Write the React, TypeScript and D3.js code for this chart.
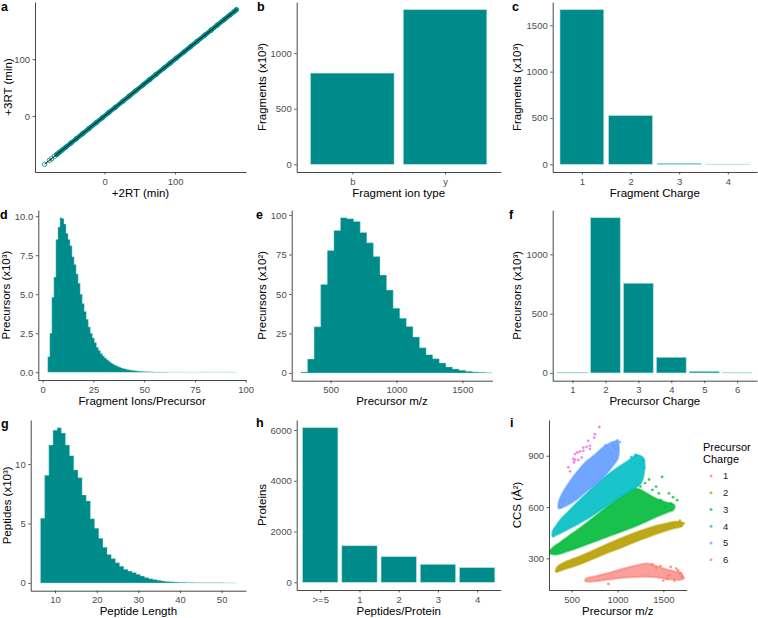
import React, { useEffect, useRef } from "react";
import * as d3 from "d3";

// ---------- data ----------
// a: retention times, +2 vs +3 charge
const rtPlus2 = [-85, -78, -75, -71, -68, -64, -60, -55, -48, -40, -31, -22, -12, -3, 6, 15, 26, 35, 44, 55, 64, 73, 84, 93, 102, 113, 122, 131, 142, 151, 160, 170, 178, 184, 187];
const rtPlus3 = [-85, -78, -75, -71, -68, -64, -60, -55, -48, -40, -31, -22, -12, -3, 6, 15, 26, 35, 44, 55, 64, 73, 84, 93, 102, 113, 122, 131, 142, 151, 160, 170, 178, 184, 187];

// b
const ionTypes = ["b", "y"];
const ionTypeCounts = [820, 1390];
// c
const fragCharges = ["1", "2", "3", "4"];
const fragChargeCounts = [1668, 525, 10, 1];
// d: fragment ions per precursor, bins of 1 starting at 3
const ionsBinStart = 2.5;
const ionsBinWidth = 1;
const ionsPerPrecursor = [
  1.0, 2.5, 4.8, 6.1, 8.5, 9.3, 9.9, 9.85, 9.5, 8.9, 8.5, 8.1, 7.4, 6.9, 6.3, 5.7, 5.0, 4.4, 3.9, 3.4,
  2.9, 2.5, 2.2, 1.9, 1.6, 1.4, 1.2, 1.05, 0.92, 0.8, 0.7, 0.6, 0.52, 0.45, 0.39, 0.33, 0.28, 0.24, 0.21, 0.18,
  0.15, 0.13, 0.11, 0.095, 0.08, 0.07, 0.06, 0.05, 0.043, 0.037, 0.032, 0.027, 0.023, 0.02, 0.017, 0.015, 0.013, 0.011, 0.01, 0.009,
  0.008, 0.007, 0.006, 0.005, 0.005, 0.004, 0.004, 0.003, 0.003, 0.003, 0.002, 0.002, 0.002, 0.002, 0.002, 0.002, 0.002, 0.002, 0.001, 0.001,
  0.001, 0.001, 0.001, 0.001, 0.001, 0.001, 0.001, 0.001, 0.001, 0.001, 0.001, 0.001, 0.001,
];
// e: precursor m/z, bins of 50 starting at 275
const mzBinStart = 275;
const mzBinWidth = 50;
const precursorMz = [
  0.6, 8.8, 29.2, 56.1, 77.5, 90.3, 98.3, 97.7, 96.0, 88.9, 82.4, 73.7, 62.0, 52.5, 41.0,
  34.7, 29.4, 22.7, 16.0, 11.6, 9.0, 6.3, 3.8, 2.5, 1.7, 1.0, 0.6, 0.4, 0.2,
];
// f
const precCharges = ["1", "2", "3", "4", "5", "6"];
const precChargeCounts = [6, 1308, 756, 132, 14, 2];
// g: peptide length, bins of 1 starting at 7
const lenBinStart = 6.5;
const lenBinWidth = 1;
const peptideLength = [
  5.45, 9.05, 11.6, 12.85, 13.05, 12.6, 11.6, 10.7, 9.5, 8.85, 7.4, 6.9, 5.4, 4.6, 3.75, 3.0,
  2.4, 2.05, 1.7, 1.4, 1.15, 1.0, 0.88, 0.73, 0.58, 0.46, 0.36, 0.28, 0.22, 0.17, 0.13, 0.1,
  0.08, 0.06, 0.05, 0.04, 0.03, 0.025, 0.02, 0.015, 0.012, 0.01, 0.008, 0.006, 0.005, 0.004, 0.003,
];
// h
const pepPerProtein = [">=5", "1", "2", "3", "4"];
const proteinCounts = [6092, 1438, 1007, 706, 575];

// i: CCS vs m/z, dense clouds as outlines + loose points
const chargeLabels = ["1", "2", "3", "4", "5", "6"];
const chargeColors = ["#F8766D", "#B79F00", "#00BA38", "#00BFC4", "#619CFF", "#F564E3"];
const cloud1 = [[650, 180], [760, 196], [900, 214], [1050, 238], [1200, 258], [1320, 270], [1420, 256], [1520, 238], [1620, 224], [1705, 210], [1705, 178], [1600, 176], [1460, 186], [1300, 192], [1100, 188], [900, 176], [760, 166], [650, 166]];
const cloud2 = [[330, 222], [420, 236], [520, 252], [620, 272], [720, 294], [820, 316], [920, 338], [1020, 358], [1120, 380], [1220, 402], [1320, 422], [1420, 442], [1520, 460], [1620, 476], [1705, 488], [1710, 508], [1640, 516], [1540, 506], [1440, 494], [1340, 478], [1240, 460], [1140, 440], [1040, 418], [940, 396], [840, 372], [740, 348], [640, 324], [540, 302], [440, 282], [370, 262], [335, 244]];
const cloud3 = [[268, 328], [340, 322], [440, 338], [540, 356], [640, 376], [740, 396], [840, 416], [940, 436], [1040, 456], [1140, 476], [1240, 498], [1340, 522], [1440, 546], [1540, 568], [1610, 584], [1620, 612], [1520, 630], [1420, 650], [1320, 680], [1230, 706], [1160, 704], [1060, 668], [960, 632], [860, 590], [760, 548], [660, 506], [560, 466], [460, 428], [380, 396], [310, 370], [270, 350]];
const cloud4 = [[292, 432], [360, 442], [460, 470], [560, 498], [660, 528], [760, 562], [860, 598], [960, 634], [1060, 668], [1160, 700], [1250, 735], [1290, 800], [1285, 885], [1200, 905], [1140, 880], [1040, 845], [940, 808], [840, 765], [740, 718], [640, 668], [540, 616], [450, 566], [380, 528], [325, 488], [292, 458]];
const cloud5 = [[358, 592], [450, 610], [550, 642], [650, 688], [750, 728], [850, 776], [950, 842], [1005, 885], [1000, 985], [920, 975], [850, 952], [750, 905], [650, 862], [550, 800], [470, 742], [400, 682], [360, 632]];
const loose1 = [[1640, 240], [1680, 215], [1560, 200], [1470, 255], [1380, 265], [1620, 170], [900, 150], [1720, 185], [1500, 170], [1660, 230], [1420, 245], [1580, 250], [1700, 195], [1540, 180]];
const loose2 = [[1720, 505], [340, 225], [1680, 520]];
const loose3 = [[1486, 776], [1344, 761], [1300, 740], [1420, 720], [1560, 680], [1605, 658], [1650, 640], [1380, 700], [1450, 680], [1520, 600], [1250, 720], [1470, 640], [1580, 620]];
const loose4 = [[1279, 870], [1200, 905], [1250, 850], [1150, 890], [1290, 830], [300, 430]];
const loose5 = [[1000, 990], [1025, 980], [955, 960], [930, 915], [980, 940], [870, 960], [380, 600], [420, 640]];
const loose6 = [[801, 1068], [754, 1026], [746, 1006], [681, 987], [699, 958], [663, 952], [627, 948], [591, 925], [562, 919], [536, 910], [609, 890], [572, 875], [536, 875], [518, 881], [464, 832], [482, 809], [525, 861], [699, 939], [627, 929]];

// ---------- styling ----------
const FONT = "'Liberation Sans', Arial, Helvetica, sans-serif";
const TEAL = "#008b8b";
const BAR_EDGE = "#a9dcdc";

const expand = (lo: number, hi: number, f = 0.05) => {
  const d = (hi - lo) * f;
  return [lo - d, hi + d];
};

type Box = { l: number; r: number; t: number; b: number };

function frame(svg: any, box: Box, xs: any, ys: any, o: any) {
  const g = svg.append("g");
  const xa = g
    .append("g")
    .attr("transform", `translate(0,${box.b})`)
    .call(d3.axisBottom(xs).tickValues(o.xTicks).tickFormat(o.xFmt || d3.format("d")).tickSize(2.5).tickSizeOuter(0).tickPadding(3.5));
  const ya = g
    .append("g")
    .attr("transform", `translate(${box.l},0)`)
    .call(d3.axisLeft(ys).tickValues(o.yTicks).tickFormat(o.yFmt || d3.format("d")).tickSize(2.5).tickSizeOuter(0).tickPadding(2.5));
  [xa, ya].forEach((a) => {
    a.select(".domain").attr("stroke", "#333").attr("stroke-width", 0.9);
    a.selectAll(".tick line").attr("stroke", "#333").attr("stroke-width", 0.8);
    a.selectAll("text").attr("fill", "#4d4d4d").style("font-size", "9.5px").style("font-family", FONT);
  });

  g.append("text")
    .attr("x", (box.l + box.r) / 2)
    .attr("y", box.b + 24.5)
    .attr("text-anchor", "middle")
    .style("font-size", "11.5px")
    .style("font-family", FONT)
    .text(o.xTitle);

  g.append("text")
    .attr("transform", `translate(${o.yTitleX + 4},${(box.t + box.b) / 2}) rotate(-90)`)
    .attr("text-anchor", "middle")
    .style("font-size", "11.5px")
    .style("font-family", FONT)
    .text(o.yTitle);

  g.append("text")
    .attr("x", o.letter[1])
    .attr("y", o.letter[2])
    .style("font-size", "12.5px")
    .style("font-weight", "bold")
    .style("font-family", FONT)
    .text(o.letter[0]);
}

function bars(svg: any, xs: any, ys: any, counts: number[]) {
  svg
    .append("g")
    .selectAll("rect")
    .data(counts)
    .join("rect")
    .attr("x", (d: number, i: number) => xs(i + 1 - 0.45))
    .attr("width", xs(0.9) - xs(0))
    .attr("y", (d: number) => ys(d))
    .attr("height", (d: number) => ys(0) - ys(d))
    .attr("fill", TEAL)
    .attr("stroke", BAR_EDGE)
    .attr("stroke-width", 0.6);
}

// histogram drawn as one stepped outline so that neighbouring bins don't leave seams
function histogram(svg: any, xs: any, ys: any, start: number, width: number, values: number[]) {
  const steps: number[][] = [];
  values.forEach((v, i) => {
    steps.push([start + i * width, v]);
    steps.push([start + (i + 1) * width, v]);
  });
  const area = d3
    .area<number[]>()
    .x((d) => xs(d[0]))
    .y0(ys(0))
    .y1((d) => ys(d[1]));
  svg.append("path").attr("d", area(steps)).attr("fill", TEAL).attr("stroke", BAR_EDGE).attr("stroke-width", 0.4);
}

const App = () => {
  const svgRef = useRef<SVGSVGElement>(null);

  useEffect(() => {
    const svg = d3.select(svgRef.current);
    svg.selectAll("*").remove();

    // ---- a ----
    {
      const box = { l: 35, r: 246, t: 2, b: 172 };
      const xs = d3.scaleLinear().domain(expand(d3.min(rtPlus2)!, d3.max(rtPlus2)!)).range([box.l, box.r]);
      const ys = d3.scaleLinear().domain(expand(d3.min(rtPlus3)!, d3.max(rtPlus3)!)).range([box.b, box.t]);
      const pts = rtPlus2.map((x, i) => [x, rtPlus3[i]]);
      const line = d3.line<number[]>().x((d) => xs(d[0])).y((d) => ys(d[1]));
      svg.append("path").attr("d", line(pts.filter((p) => p[0] > -70))).attr("fill", "none")
        .attr("stroke", TEAL).attr("stroke-width", 4.6).attr("stroke-linecap", "round");
      svg.append("g").selectAll("circle").data(pts).join("circle")
        .attr("cx", (d) => xs(d[0])).attr("cy", (d) => ys(d[1])).attr("r", 2.3)
        .attr("fill", "none").attr("stroke", TEAL).attr("stroke-width", 0.8);
      svg.append("path").attr("d", line([pts[0], pts[pts.length - 1]])).attr("stroke", "#000")
        .attr("stroke-width", 0.9).attr("fill", "none");
      frame(svg, box, xs, ys, { xTicks: [0, 100], yTicks: [0, 100], xTitle: "+2RT (min)", yTitle: "+3RT (min)", yTitleX: 8.3, letter: ["a", 1, 11] });
    }

    // ---- b ----
    {
      const box = { l: 296.7, r: 500.7, t: 2, b: 172 };
      const xs = d3.scaleLinear().domain([0.4, ionTypes.length + 0.6]).range([box.l, box.r]);
      const ys = d3.scaleLinear().domain(expand(0, d3.max(ionTypeCounts)!)).range([box.b, box.t]);
      bars(svg, xs, ys, ionTypeCounts);
      frame(svg, box, xs, ys, { xTicks: [1, 2], xFmt: (d: number) => ionTypes[d - 1], yTicks: [0, 500, 1000], xTitle: "Fragment ion type", yTitle: "Fragments (x10³)", yTitleX: 262.3, letter: ["b", 257, 11] });
    }

    // ---- c ----
    {
      const box = { l: 552.7, r: 757, t: 2, b: 172 };
      const xs = d3.scaleLinear().domain([0.4, fragCharges.length + 0.6]).range([box.l, box.r]);
      const ys = d3.scaleLinear().domain(expand(0, d3.max(fragChargeCounts)!)).range([box.b, box.t]);
      bars(svg, xs, ys, fragChargeCounts);
      frame(svg, box, xs, ys, { xTicks: [1, 2, 3, 4], xFmt: (d: number) => fragCharges[d - 1], yTicks: [0, 500, 1000, 1500], xTitle: "Fragment Charge", yTitle: "Fragments (x10³)", yTitleX: 517.3, letter: ["c", 512, 11] });
    }

    // ---- d ----
    {
      const box = { l: 38.3, r: 246, t: 210, b: 380 };
      const xs = d3.scaleLinear().domain(expand(ionsBinStart, ionsBinStart + ionsPerPrecursor.length * ionsBinWidth)).range([box.l, box.r]);
      const ys = d3.scaleLinear().domain(expand(0, d3.max(ionsPerPrecursor)!)).range([box.b, box.t]);
      histogram(svg, xs, ys, ionsBinStart, ionsBinWidth, ionsPerPrecursor);
      frame(svg, box, xs, ys, { xTicks: [0, 25, 50, 75, 100], yTicks: [0, 2.5, 5, 7.5, 10], yFmt: d3.format(".1f"), xTitle: "Fragment Ions/Precursor", yTitle: "Precursors (x10³)", yTitleX: 6, letter: ["d", 0, 219] });
    }

    // ---- e ----
    {
      const box = { l: 291.7, r: 492.3, t: 210, b: 380.7 };
      const xs = d3.scaleLinear().domain([205, 1727]).range([box.l, box.r]);
      const ys = d3.scaleLinear().domain(expand(0, d3.max(precursorMz)!)).range([box.b, box.t]);
      histogram(svg, xs, ys, mzBinStart, mzBinWidth, precursorMz);
      frame(svg, box, xs, ys, { xTicks: [500, 1000, 1500], yTicks: [0, 25, 50, 75, 100], xTitle: "Precursor m/z", yTitle: "Precursors (x10²)", yTitleX: 262.3, letter: ["e", 256, 219] });
    }

    // ---- f ----
    {
      const box = { l: 552.7, r: 757, t: 210, b: 380.7 };
      const xs = d3.scaleLinear().domain([0.4, precCharges.length + 0.6]).range([box.l, box.r]);
      const ys = d3.scaleLinear().domain(expand(0, d3.max(precChargeCounts)!)).range([box.b, box.t]);
      bars(svg, xs, ys, precChargeCounts);
      frame(svg, box, xs, ys, { xTicks: [1, 2, 3, 4, 5, 6], xFmt: (d: number) => precCharges[d - 1], yTicks: [0, 500, 1000], xTitle: "Precursor Charge", yTitle: "Precursors (x10³)", yTitleX: 517.3, letter: ["f", 509, 219] });
    }

    // ---- g ----
    {
      const box = { l: 30.7, r: 246, t: 420, b: 590.7 };
      const xs = d3.scaleLinear().domain(expand(lenBinStart, lenBinStart + peptideLength.length * lenBinWidth)).range([box.l, box.r]);
      const ys = d3.scaleLinear().domain(expand(0, d3.max(peptideLength)!)).range([box.b, box.t]);
      histogram(svg, xs, ys, lenBinStart, lenBinWidth, peptideLength);
      frame(svg, box, xs, ys, { xTicks: [10, 20, 30, 40, 50], yTicks: [0, 5, 10], xTitle: "Peptide Length", yTitle: "Peptides (x10³)", yTitleX: 6.7, letter: ["g", 1, 428] });
    }

    // ---- h ----
    {
      const box = { l: 296.7, r: 500.7, t: 420, b: 590 };
      const xs = d3.scaleLinear().domain([0.4, pepPerProtein.length + 0.6]).range([box.l, box.r]);
      const ys = d3.scaleLinear().domain(expand(0, d3.max(proteinCounts)!)).range([box.b, box.t]);
      bars(svg, xs, ys, proteinCounts);
      frame(svg, box, xs, ys, { xTicks: [1, 2, 3, 4, 5], xFmt: (d: number) => pepPerProtein[d - 1], yTicks: [0, 2000, 4000, 6000], xTitle: "Peptides/Protein", yTitle: "Proteins", yTitleX: 262.3, letter: ["h", 256, 427] });
    }

    // ---- i ----
    {
      const box = { l: 549, r: 686.7, t: 420, b: 590 };
      const xs = d3.scaleLinear().domain([253, 1754]).range([box.l, box.r]);
      const ys = d3.scaleLinear().domain([115, 1109]).range([box.b, box.t]);
      const area = d3.line<number[]>().x((d) => xs(d[0])).y((d) => ys(d[1])).curve(d3.curveCatmullRomClosed.alpha(0.5));
      const clouds = [cloud1, cloud2, cloud3, cloud4, cloud5, null];
      const loose = [loose1, loose2, loose3, loose4, loose5, loose6];
      const gi = svg.append("g");
      chargeLabels.forEach((c, k) => {
        const cl = clouds[k];
        if (cl) {
          gi.append("path").attr("d", area(cl)).attr("fill", chargeColors[k]).attr("fill-opacity", k === 0 ? 0.7 : 0.9)
            .attr("stroke", chargeColors[k]).attr("stroke-width", 2).attr("stroke-opacity", 0.5).attr("stroke-linejoin", "round");
        }
        gi.append("g").selectAll("circle").data(loose[k]).join("circle")
          .attr("cx", (d) => xs(d[0])).attr("cy", (d) => ys(d[1])).attr("r", 1.4)
          .attr("fill", chargeColors[k]).attr("fill-opacity", 0.75);
      });
      frame(svg, box, xs, ys, { xTicks: [500, 1000, 1500], yTicks: [300, 600, 900], xTitle: "Precursor m/z", yTitle: "CCS (Å²)", yTitleX: 517.3, letter: ["i", 510, 427] });

      const lg = svg.append("g").style("font-family", FONT);
      lg.append("text").attr("x", 703).attr("y", 451).style("font-size", "11px").text("Precursor");
      lg.append("text").attr("x", 703).attr("y", 463).style("font-size", "11px").text("Charge");
      const ly = d3.scaleLinear().domain([0, 5]).range([476, 559.7]);
      lg.selectAll("circle").data(chargeLabels).join("circle")
        .attr("cx", 711).attr("cy", (d, k) => ly(k)).attr("r", 1.5)
        .attr("fill", (d, k) => chargeColors[k]).attr("fill-opacity", 0.7);
      lg.selectAll("text.lab").data(chargeLabels).join("text").attr("class", "lab")
        .attr("x", 723).attr("y", (d, k) => ly(k) + 3.4).style("font-size", "9.5px").attr("fill", "#222").text((d) => d);
    }
  }, []);

  return (
    <div>
      <svg ref={svgRef} width={758} height={618} style={{ position: "absolute", left: 0, top: 0, background: "#fff" }} />
    </div>
  );
};

export default App;
